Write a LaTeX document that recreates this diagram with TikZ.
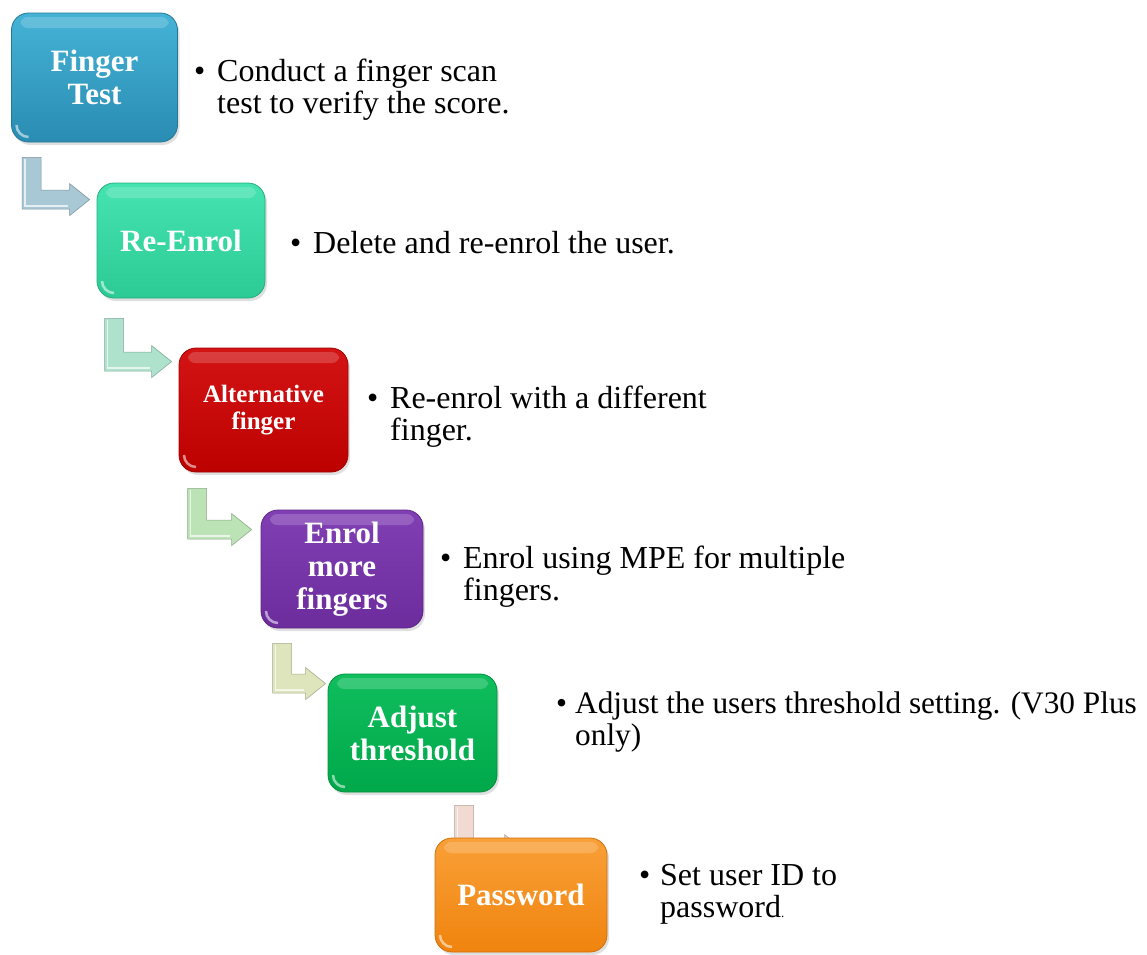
\documentclass[tikz,border=0pt]{standalone}
\usepackage{fontspec}
\setmainfont{Liberation Serif}
\usetikzlibrary{calc,shadows,backgrounds}

\definecolor{tealtop}{HTML}{45B3D6}
\definecolor{tealbot}{HTML}{2A8CB2}
\definecolor{minttop}{HTML}{45E3B0}
\definecolor{mintbot}{HTML}{2CCB95}
\definecolor{redtop}{HTML}{D41414}
\definecolor{redbot}{HTML}{BC0000}
\definecolor{purtop}{HTML}{8040B4}
\definecolor{purbot}{HTML}{6C2C9C}
\definecolor{grntop}{HTML}{10BE5E}
\definecolor{grnbot}{HTML}{00A84A}
\definecolor{orgtop}{HTML}{F9A038}
\definecolor{orgbot}{HTML}{F0840E}
\definecolor{arrA}{HTML}{A9C8D6}
\definecolor{arrB}{HTML}{AEE2CC}
\definecolor{arrC}{HTML}{BCE3B6}
\definecolor{arrD}{HTML}{DEE4BC}
\definecolor{arrE}{HTML}{F0DAD2}

\tikzset{
  stepbox/.style 2 args={rounded corners=17pt, inner sep=0pt,
    top color=#1, bottom color=#2, draw=#2!85!black, line width=0.8pt,
    text=white, align=center,
    font=\bfseries\fontsize{31}{33}\selectfont,
    drop shadow={shadow xshift=2pt, shadow yshift=-3pt, opacity=0.25},
    path picture={
      \fill[white,opacity=0.18,rounded corners=7pt]
        ($(path picture bounding box.north west)+(9pt,-4pt)$) rectangle
        ($(path picture bounding box.north east)+(-9pt,-15pt)$);
      \draw[white,opacity=0.55,line width=2.5pt]
        ($(path picture bounding box.south west)+(5pt,17pt)$)
        arc[start angle=180,end angle=270,radius=12pt];
    }},
  desc/.style={inner sep=0pt, text=black, anchor=base west,
    font=\fontsize{32}{32}\selectfont},
}

\newcommand\bentarrow[5]{%
  \fill[#3, draw=#3!75!black, line width=0.6pt]
    let \p1=($(#1.south west)+#4$), \p2=($(#2.north west)+#5$) in
    (\x1,\y1) -- (\x1+19pt,\y1) -- (\x1+19pt,\y2+9.5pt) -- (\x2-20pt,\y2+9.5pt)
    -- (\x2-20pt,\y2+16pt) -- (\x2,\y2) -- (\x2-20pt,\y2-16pt)
    -- (\x2-20pt,\y2-9.5pt) -- (\x1,\y2-9.5pt) -- cycle;
  \draw[white,opacity=0.7,line width=1.5pt]
    let \p1=($(#1.south west)+#4$), \p2=($(#2.north west)+#5$) in
    (\x1+3pt,\y1-2pt) -- (\x1+3pt,\y2-6.5pt) -- (\x2-22pt,\y2-6.5pt);
}

\newcommand\bul{\makebox[23pt][l]{\textbullet}}

\begin{document}
\begin{tikzpicture}[x=1pt,y=-1pt]
\useasboundingbox (0,0) rectangle (1147,954);

% boxes
\node[stepbox={tealtop}{tealbot}, minimum width=166pt, minimum height=129pt] (b1) at (94.5,77.5) {Finger\\Test};
\node[stepbox={minttop}{mintbot}, minimum width=168pt, minimum height=115pt] (b2) at (181,240.5) {Re-Enrol};
\node[stepbox={redtop}{redbot}, minimum width=169pt, minimum height=124pt,
      font=\bfseries\fontsize{25}{27}\selectfont] (b3) at (263.5,410) {Alternative\\finger};
\node[stepbox={purtop}{purbot}, minimum width=162pt, minimum height=118pt] (b4) at (342,569) {Enrol\\more\\fingers};
\node[stepbox={grntop}{grnbot}, minimum width=169pt, minimum height=118pt] (b5) at (412.5,733) {Adjust\\threshold};
\node[stepbox={orgtop}{orgbot}, minimum width=172pt, minimum height=114pt] (b6) at (521,895) {Password};

% bent arrows behind the boxes
\begin{scope}[on background layer]
\bentarrow{b1}{b2}{arrA}{(11,15)}{(-7,17)}
\bentarrow{b2}{b3}{arrB}{(8,20)}{(-7,14)}
\bentarrow{b3}{b4}{arrC}{(9,16)}{(-9,20)}
\bentarrow{b4}{b5}{arrD}{(12,15)}{(-2,10)}
\bentarrow{b5}{b6}{arrE}{(127,13)}{(90,13)}
\end{scope}

% descriptions
\node[desc] (t1) at (194,81) {\begin{tabular}[t]{@{}l@{}l@{}}\bul&Conduct a finger scan\\&test to verify the score.\end{tabular}};
\node[desc] (t2) at (290,253) {\begin{tabular}[t]{@{}l@{}l@{}}\bul&Delete and re-enrol the user.\end{tabular}};
\node[desc] (t3) at (367,408) {\begin{tabular}[t]{@{}l@{}l@{}}\bul&Re-enrol with a different\\&finger.\end{tabular}};
\node[desc] (t4) at (440,568) {\begin{tabular}[t]{@{}l@{}l@{}}\bul&Enrol using MPE for multiple\\&fingers.\end{tabular}};
\node[desc, font=\fontsize{31.3}{32}\selectfont] (t5) at (556,713) {\begin{tabular}[t]{@{}l@{}l@{}}\makebox[19pt][l]{\textbullet}&Adjust the users threshold setting. (V30 Plus\\&only)\end{tabular}};
\node[desc] (t6) at (639,885) {\begin{tabular}[t]{@{}l@{}l@{}}\makebox[21pt][l]{\textbullet}&Set user ID to\\&password{\fontsize{13}{13}\selectfont.}\end{tabular}};
\end{tikzpicture}
\end{document}
